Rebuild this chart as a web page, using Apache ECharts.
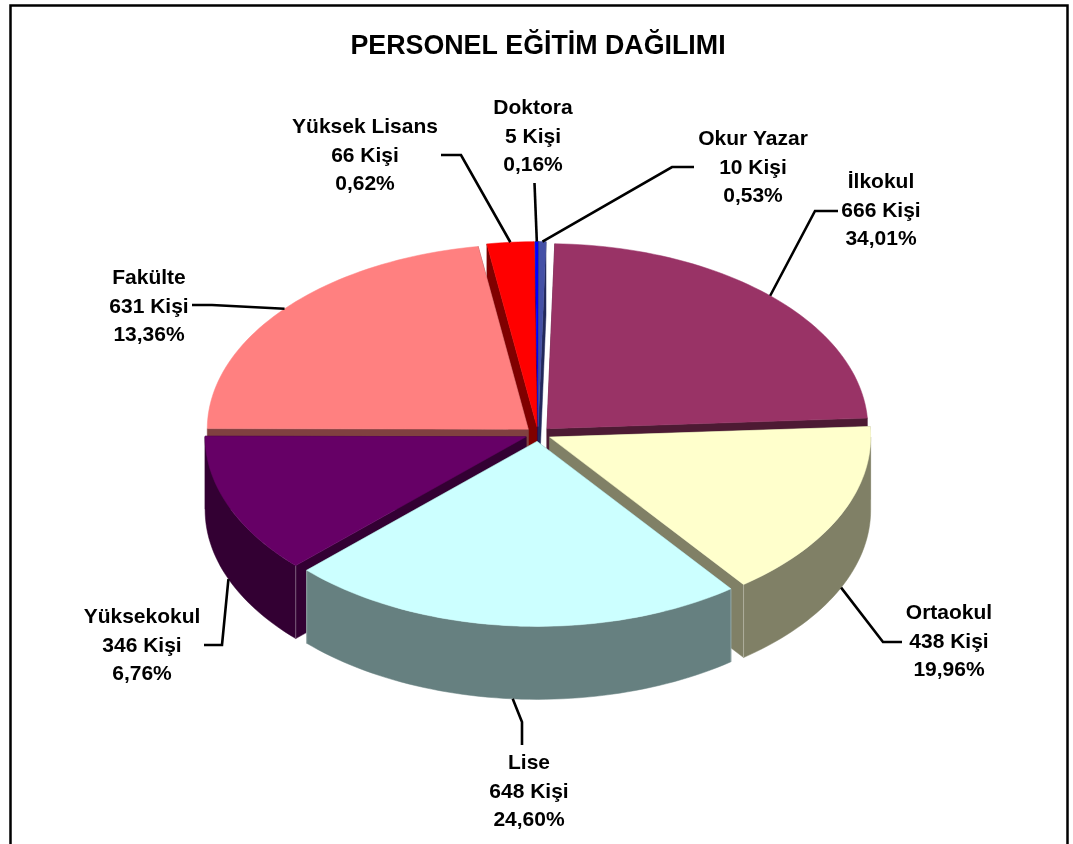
<!DOCTYPE html>
<html>
<head>
<meta charset="utf-8">
<title>Personel Eğitim Dağılımı</title>
<script src="https://cdn.jsdelivr.net/npm/echarts@6/dist/echarts.min.js"></script>
<style>
  html, body { margin: 0; padding: 0; background: #fff; }
  #chart { width: 1073px; height: 844px; }
</style>
</head>
<body>
<div id="chart"></div>
<script>
const names = ['İlkokul', 'Ortaokul', 'Lise', 'Yüksekokul', 'Fakülte', 'Yüksek Lisans', 'Doktora', 'Okur Yazar']
const counts = [666, 438, 648, 346, 631, 66, 5, 10]
const percents = ['34,01%', '19,96%', '24,60%', '6,76%', '13,36%', '0,62%', '0,16%', '0,53%']
const topColors = ['#993366', '#ffffcc', '#ccffff', '#660066', '#ff8080', '#ff0000', '#0000ff', '#4450a6']
const wallColors = ['#4d1a33', '#808066', '#668080', '#330033', '#804040', '#800000', '#000080', '#22285a']

// pie projection
const cx = 538
const cy = 434
const rx = 321
const ry = 185
const depth = 73
const explode = 0.04
const startAngle = 1.4

// label centre and leader points after the rim anchor, by slice index
const labelLayout = [
  { x: 881, y: 211, leader: [[815, 211], [838, 211]] },
  { x: 949, y: 642, leader: [[883, 642], [902, 642]] },
  { x: 529, y: 792, leader: [[522, 722], [522, 745]] },
  { x: 142, y: 646, leader: [[222, 645], [204, 645]] },
  { x: 149, y: 307, leader: [[212, 305], [192, 305]] },
  { x: 365, y: 156, leader: [[461, 155], [441, 155]] },
  { x: 533, y: 137, leader: [[534.5, 183]] },
  { x: 753, y: 168, leader: [[672, 167], [694, 167]] }
]

const total = counts.reduce((a, b) => a + b, 0)
const slices = []
let acc = startAngle
counts.forEach((v, i) => {
  const sweep = (v / total) * 360
  const mid = acc + sweep / 2
  const rad = (mid * Math.PI) / 180
  slices.push({
    index: i,
    from: acc,
    to: acc + sweep,
    mid,
    ox: cx + explode * rx * Math.sin(rad),
    oy: cy - explode * ry * Math.cos(rad)
  })
  acc += sweep
})

// back slices are painted first
const drawOrder = slices.slice().sort((a, b) => Math.cos((b.mid * Math.PI) / 180) - Math.cos((a.mid * Math.PI) / 180))

function rim(s, deg, drop) {
  const rad = (deg * Math.PI) / 180
  return [s.ox + rx * Math.sin(rad), s.oy - ry * Math.cos(rad) + (drop || 0)]
}

function arcPoints(s, from, to, drop) {
  const pts = []
  const steps = Math.max(2, Math.ceil((to - from) / 1.5))
  for (let k = 0; k <= steps; k++) {
    pts.push(rim(s, from + ((to - from) * k) / steps, drop))
  }
  return pts
}

function renderSlice(params, api) {
  const s = slices[api.value(0)]
  const top = topColors[s.index]
  const wall = wallColors[s.index]
  const children = []
  const poly = (points, fill) => children.push({
    type: 'polygon',
    shape: { points },
    style: { fill, stroke: fill, lineWidth: 0.5 }
  })

  // cut faces
  ;[s.from, s.to].forEach((deg) => {
    const p = rim(s, deg)
    poly([[s.ox, s.oy], p, [p[0], p[1] + depth], [s.ox, s.oy + depth]], wall)
  })

  // outer wall, only the front half of the rim shows
  const a = Math.max(s.from, 90)
  const b = Math.min(s.to, 270)
  if (b > a) {
    poly(arcPoints(s, a, b).concat(arcPoints(s, a, b, depth).reverse()), wall)
    if (s.to < 270) {
      const c = rim(s, s.to)
      children.push({
        type: 'line',
        shape: { x1: c[0], y1: c[1], x2: c[0], y2: c[1] + depth },
        style: { stroke: 'rgba(255,255,255,0.4)', lineWidth: 0.8 }
      })
    }
    if (s.from > 90) {
      const c = rim(s, s.from)
      children.push({
        type: 'line',
        shape: { x1: c[0], y1: c[1], x2: c[0], y2: c[1] + depth },
        style: { stroke: 'rgba(255,255,255,0.4)', lineWidth: 0.8 }
      })
    }
  }

  poly([[s.ox, s.oy]].concat(arcPoints(s, s.from, s.to)), top)
  return { type: 'group', children }
}

function renderLabel(params, api) {
  const s = slices[api.value(0)]
  const i = s.index
  const layout = labelLayout[i]
  const midCos = Math.cos((s.mid * Math.PI) / 180)
  const anchor = rim(s, s.mid, midCos < 0 ? depth : 0)
  return {
    type: 'group',
    children: [
      {
        type: 'polyline',
        shape: { points: [anchor].concat(layout.leader) },
        style: { fill: 'none', stroke: '#000', lineWidth: 2.6 }
      },
      {
        type: 'text',
        style: {
          x: layout.x,
          y: layout.y,
          text: names[i] + '\n' + counts[i] + ' Kişi\n' + percents[i],
          align: 'center',
          verticalAlign: 'middle',
          fill: '#000',
          fontFamily: '"Liberation Sans", Arial, sans-serif',
          fontWeight: 'bold',
          fontSize: 21,
          lineHeight: 28.5
        }
      }
    ]
  }
}

const chart = echarts.init(document.getElementById('chart'), null, { renderer: 'canvas' })

chart.setOption({
  animation: false,
  title: {
    text: 'PERSONEL EĞİTİM DAĞILIMI',
    left: 533,
    top: 28,
    textAlign: 'center',
    textStyle: {
      fontFamily: '"Liberation Sans", Arial, sans-serif',
      fontWeight: 'bold',
      fontSize: 26.8,
      color: '#000'
    }
  },
  graphic: [
    {
      type: 'polyline',
      silent: true,
      shape: { points: [[10.5, 860], [10.5, 5.5], [1067.5, 5.5], [1067.5, 860]] },
      style: { fill: 'none', stroke: '#000', lineWidth: 2.5 }
    }
  ],
  series: [
    {
      type: 'custom',
      coordinateSystem: 'none',
      silent: true,
      clip: false,
      renderItem: renderSlice,
      data: drawOrder.map((s) => [slices.indexOf(s), counts[s.index]])
    },
    {
      type: 'custom',
      coordinateSystem: 'none',
      silent: true,
      clip: false,
      z: 3,
      renderItem: renderLabel,
      data: slices.map((s, i) => [i, counts[i]])
    }
  ]
})

window.addEventListener('resize', () => chart.resize())
</script>
</body>
</html>
